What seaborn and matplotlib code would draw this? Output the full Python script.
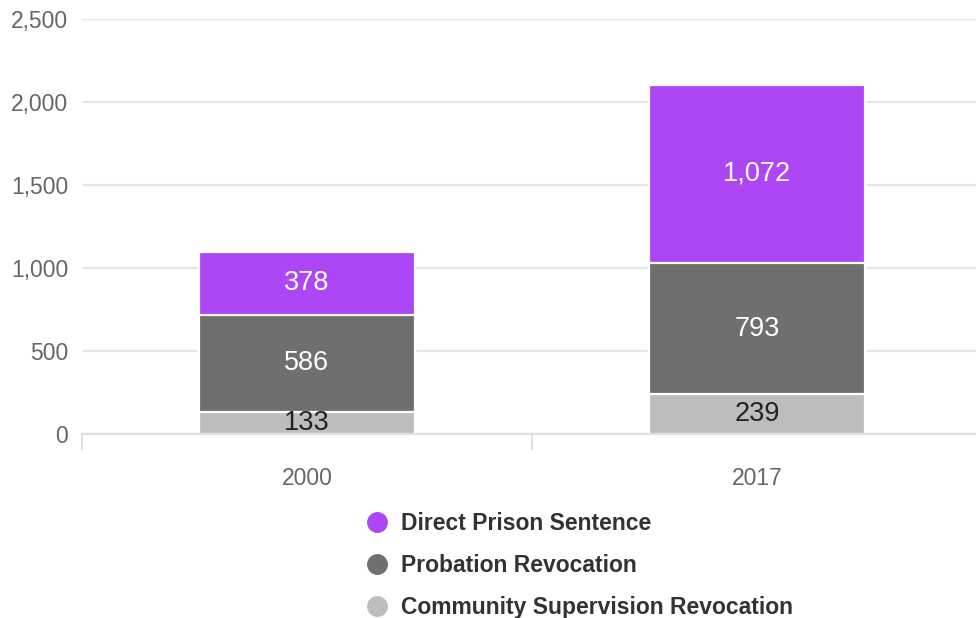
import matplotlib
matplotlib.use("Agg")
import matplotlib.pyplot as plt
from matplotlib.lines import Line2D
import seaborn as sns
import pandas as pd
import numpy as np

# Admissions by type, per year
years = ["2000", "2017"]
community_supervision = [133, 239]
probation_revocation = [586, 793]
direct_prison = [378, 1072]

series_names = ["Direct Prison Sentence", "Probation Revocation", "Community Supervision Revocation"]
colors = {"Direct Prison Sentence": "#ad47f5",
          "Probation Revocation": "#6f6f6f",
          "Community Supervision Revocation": "#bdbdbd"}
label_colors = {"Direct Prison Sentence": "white",
                "Probation Revocation": "white",
                "Community Supervision Revocation": "#222222"}

sns.set_theme(style="white")
plt.rcParams["font.family"] = ["Liberation Sans", "DejaVu Sans"]

fig = plt.figure(figsize=(9.76, 6.18), dpi=100)
ax = fig.add_axes([82 / 976, 184 / 618, 900 / 976, 415 / 618])

# stacked segments: bottom, value, series name
lower = np.array(community_supervision)
middle = lower + np.array(probation_revocation)
total = middle + np.array(direct_prison)
stack = [
    ("Direct Prison Sentence", middle, np.array(direct_prison)),
    ("Probation Revocation", lower, np.array(probation_revocation)),
    ("Community Supervision Revocation", np.zeros(2), np.array(community_supervision)),
]

# draw cumulative heights from the top down so each layer covers the next
for name, bottom, vals in stack:
    df = pd.DataFrame({"year": years, "height": bottom + vals})
    sns.barplot(data=df, x="year", y="height", color=colors[name], saturation=1,
                width=0.478, edgecolor="white", linewidth=1.6, ax=ax, zorder=2)

for name, bottom, vals in stack:
    for i, v in enumerate(vals):
        ax.text(i, bottom[i] + v / 2, f"{v:,}", ha="center", va="center",
                fontsize=19.5, color=label_colors[name], zorder=5)

ax.set_xlim(-0.5, 1.5)
ax.set_ylim(0, 2500)
ax.set_yticks([0, 500, 1000, 1500, 2000, 2500])
ax.set_yticklabels([f"{t:,}" for t in [0, 500, 1000, 1500, 2000, 2500]])
ax.grid(axis="y", color="#e6e6e6", linewidth=1.6, zorder=0)
ax.set_axisbelow(True)
ax.set_xlabel("")
ax.set_ylabel("")
for s in ["top", "right", "left"]:
    ax.spines[s].set_visible(False)
ax.spines["bottom"].set_color("#e0e0e0")
ax.spines["bottom"].set_linewidth(1.6)

ax.tick_params(axis="y", length=0, pad=10, labelsize=16.5, labelcolor="#666666")
ax.tick_params(axis="x", which="major", length=0, pad=23.5, labelsize=16.5, labelcolor="#666666")
ax.set_xticks([-0.5, 0.5, 1.5], minor=True)
ax.tick_params(axis="x", which="minor", length=11.5, width=1.4, color="#e0e0e0", bottom=True)

handles = [Line2D([0], [0], marker="o", linestyle="none", markersize=14,
                  markerfacecolor=colors[n], markeredgecolor=colors[n]) for n in series_names]
leg = fig.legend(handles, series_names, loc="upper left", bbox_to_anchor=(363 / 976, 1 - 512 / 618),
                 frameon=False, fontsize=16.5, handletextpad=0.45, labelspacing=0.82,
                 handlelength=1.2, borderpad=0, borderaxespad=0)
for t in leg.get_texts():
    t.set_color("#333333")
    t.set_fontweight("bold")

fig.savefig("out.png", dpi=100)
